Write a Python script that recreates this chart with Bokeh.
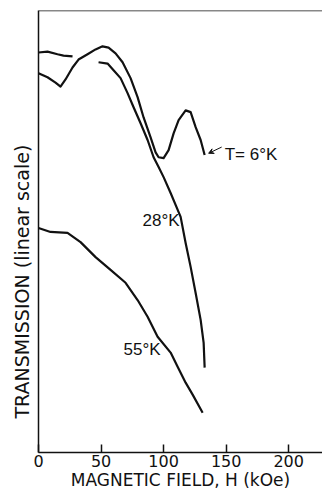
import numpy as np
from bokeh.plotting import figure
from bokeh.models import Span, Label, Arrow, VeeHead, FixedTicker, Title
from bokeh.embed import file_html
from bokeh.resources import INLINE

# --- data (y is transmission on an arbitrary linear scale 0..100) ---
h_6k = [0, 7.2, 13.6, 17.6, 21.6, 27.2, 32, 39.2, 45.6, 51.2, 56, 61.6, 67.2, 73.6, 79.2,
        84, 89.6, 93.6, 96, 100, 104, 108, 112, 117.6, 121.6, 125.6, 129.6, 132.8]
t_6k = [85.8, 84.9, 83.7, 82.8, 84.4, 87.1, 88.9, 90.1, 91.2, 91.9, 91.6, 90.3, 88.3, 84.7, 80.4,
        75.8, 71.3, 67.9, 66.8, 66.6, 68.4, 72.2, 75.2, 77.4, 77.0, 73.6, 70.7, 67.3]

h_28k_a = [0, 7.2, 15.2, 20, 27.2]
t_28k_a = [90.5, 90.7, 90.1, 89.8, 89.6]
h_28k_b = [48, 55.2, 60, 65.6, 71.2, 76, 81.6, 87.2, 92, 96, 100, 105.6, 113.6, 117.6,
           121.6, 125.6, 129.6, 132, 132.8]
t_28k_b = [88.3, 88.0, 86.5, 84.7, 81.3, 78.1, 74.5, 70.7, 66.8, 64.6, 62.3, 58.7, 53.3, 47.4,
           42.0, 36.1, 30.0, 24.8, 19.2]

h_55k = [0, 9.6, 23.2, 33.6, 45.6, 57.6, 69.6, 79.2, 87.2, 95.2, 105.6, 111.2, 117.6, 123.2, 131.2]
t_55k = [50.8, 49.9, 49.7, 47.6, 44.2, 41.3, 38.4, 34.5, 30.7, 26.2, 22.6, 19.4, 15.8, 13.1, 9.0]

x_ticks = [0, 50, 100, 150, 200]
X_RANGE = (0, 227)
Y_RANGE = (0, 100)

labels = [("T= 6°K", 148.8, 67.5), ("28°K", 83.2, 52.4), ("55°K", 68.0, 23.3)]
arrow_tail = (146.4, 69.1)
arrow_head = (136.0, 67.7)

p = figure(width=322, height=492, x_range=X_RANGE, y_range=Y_RANGE,
           output_backend="svg", toolbar_location=None,
           min_border_left=38, min_border_right=0, min_border_top=10, min_border_bottom=0)
p.outline_line_color = None
p.grid.visible = False
p.background_fill_color = "white"
p.border_fill_color = "white"

# x axis
xa = p.xaxis[0]
xa.ticker = FixedTicker(ticks=x_ticks)
xa.major_tick_in = 8
xa.major_tick_out = 0
xa.minor_tick_line_color = None
xa.axis_line_width = 1.5
xa.major_tick_line_width = 1.5
xa.axis_line_color = "#111111"
xa.major_tick_line_color = "#111111"
xa.major_label_text_font = "DejaVu Sans"
xa.major_label_text_font_size = "16px"
xa.major_label_text_color = "#111111"
xa.major_label_standoff = 2
xa.axis_label = "MAGNETIC FIELD, H (kOe)"
xa.axis_label_text_font = "DejaVu Sans"
xa.axis_label_text_font_size = "17px"
xa.axis_label_text_font_style = "normal"
xa.axis_label_text_color = "#111111"
xa.axis_label_standoff = 0

# y axis: line only
ya = p.yaxis[0]
ya.ticker = FixedTicker(ticks=[])
ya.major_tick_in = 0
ya.major_tick_out = 0
ya.minor_tick_line_color = None
ya.major_label_text_font_size = "0px"
ya.major_label_standoff = 0
ya.axis_line_width = 1.5
ya.axis_line_color = "#111111"

# y title as a left-side title
p.add_layout(Title(text="TRANSMISSION  (linear scale)", align="left", offset=34,
                   text_font="DejaVu Sans", text_font_size="19px",
                   text_font_style="normal", text_color="#111111", standoff=12), "left")

# top frame line
p.add_layout(Span(location=Y_RANGE[1], dimension="width", line_color="#111111", line_width=1.5))

lw = 2.2
col = "#111111"
p.line(h_6k, t_6k, line_width=lw, line_color=col, line_join="round")
p.line(h_28k_a, t_28k_a, line_width=lw, line_color=col, line_join="round")
p.line(h_28k_b, t_28k_b, line_width=lw, line_color=col, line_join="round")
p.line(h_55k, t_55k, line_width=lw, line_color=col, line_join="round")

for txt, lx, ly in labels:
    p.add_layout(Label(x=lx, y=ly, text=txt, text_font="Liberation Sans", text_font_size="17px",
                       text_color=col, text_baseline="alphabetic", text_align="left"))

p.add_layout(Arrow(end=VeeHead(size=5, line_color=col, line_width=1, fill_color=col),
                   x_start=arrow_tail[0], y_start=arrow_tail[1],
                   x_end=arrow_head[0], y_end=arrow_head[1],
                   line_color=col, line_width=1))

open("out.html", "w").write(file_html(p, INLINE))
